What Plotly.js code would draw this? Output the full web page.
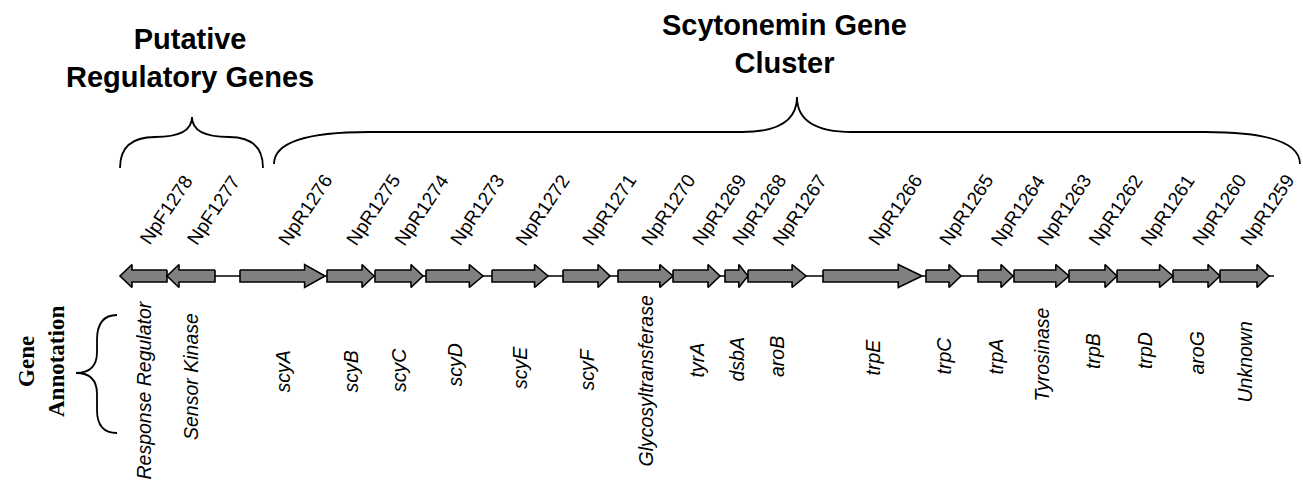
<!DOCTYPE html>
<html>
<head>
<meta charset="utf-8">
<script src="https://cdn.plot.ly/plotly-3.0.1.min.js"></script>
<style>html,body{margin:0;padding:0;background:#fff;}#chart{width:1303px;height:484px;}</style>
</head>
<body>
<div id="chart"></div>
<script>
// ---------------- DATA ----------------
const geneIds = ["NpF1278","NpF1277","NpR1276","NpR1275","NpR1274","NpR1273","NpR1272","NpR1271","NpR1270","NpR1269","NpR1268","NpR1267","NpR1266","NpR1265","NpR1264","NpR1263","NpR1262","NpR1261","NpR1260","NpR1259"];
const geneStart = [120,167,240,327,375,426,492,563,618,673,725,748,823,926,978,1014,1069,1117,1173,1220];
const geneEnd   = [167,215,325,374,423,483,548,610,673,720,748,806,922,961,1013,1069,1117,1173,1220,1269];
const geneStrand = [-1,-1,1,1,1,1,1,1,1,1,1,1,1,1,1,1,1,1,1,1];
const geneAnnotation = ["Response Regulator","Sensor Kinase","scyA","scyB","scyC","scyD","scyE","scyF","Glycosyltransferase","tyrA","dsbA","aroB","trpE","trpC","trpA","Tyrosinase","trpB","trpD","aroG","Unknown"];
const locusExtent = [120,1274];
const groupTitles = ["Putative<br>Regulatory Genes","Scytonemin Gene<br>Cluster"];
const sideTitle = "Gene<br>Annotation";

// ---------------- LAYOUT / STYLE ----------------
const W = 1303, H = 484;
const trackY = 276, bodyHalf = 6, headHalf = 11.5;
const annotLabelY = [390,377,372,372,370,365,368,370,381,360,360,357,357,356,357,355,351,351,353,362];
const sans = "Liberation Sans, Arial, Helvetica, sans-serif";
const serif = "Liberation Serif, Times New Roman, serif";

const traces = [];
traces.push({x: locusExtent, y: [trackY, trackY], mode: "lines", line: {color: "#000", width: 1.5}, hoverinfo: "skip"});

geneIds.forEach((id, i) => {
  const s = geneStart[i], e = geneEnd[i], len = e - s;
  const h = Math.min(len * 0.4, Math.max(12, 0.24 * len));
  let xs, ys;
  if (geneStrand[i] > 0) {
    xs = [s, e - h, e - h, e, e - h, e - h, s, s];
  } else {
    xs = [e, s + h, s + h, s, s + h, s + h, e, e];
  }
  ys = [trackY - bodyHalf, trackY - bodyHalf, trackY - headHalf, trackY, trackY + headHalf, trackY + bodyHalf, trackY + bodyHalf, trackY - bodyHalf];
  traces.push({x: xs, y: ys, mode: "lines", fill: "toself", fillcolor: "#808080",
    line: {color: "#000", width: 1.6}, name: id, hoverinfo: "name"});
});

const annotations = [];
geneIds.forEach((id, i) => {
  const c = (geneStart[i] + geneEnd[i]) / 2;
  annotations.push({x: c + 22, y: 210, xref: "x", yref: "y", text: id, showarrow: false,
    textangle: -56, font: {family: sans, size: 19, color: "#000"}, xanchor: "center", yanchor: "middle"});
  annotations.push({x: c, y: annotLabelY[i], xref: "x", yref: "y", text: "<i>" + geneAnnotation[i] + "</i>", showarrow: false,
    textangle: -90, font: {family: sans, size: 19.5, color: "#000"}, xanchor: "center", yanchor: "middle"});
});
annotations.push({x: 190, y: 58, xref: "x", yref: "y", text: "<b>" + groupTitles[0] + "</b>", showarrow: false,
  font: {family: sans, size: 29, color: "#000"}, xanchor: "center", yanchor: "middle"});
annotations.push({x: 784, y: 44, xref: "x", yref: "y", text: "<b>" + groupTitles[1] + "</b>", showarrow: false,
  font: {family: sans, size: 29, color: "#000"}, xanchor: "center", yanchor: "middle"});
annotations.push({x: 41, y: 362, xref: "x", yref: "y", text: "<b>" + sideTitle + "</b>", showarrow: false,
  textangle: -90, font: {family: serif, size: 23, color: "#000"}, xanchor: "center", yanchor: "middle"});

function hBrace(x0, x1, xm, yb, yh, yt, r) {
  return `M${x0},${yb} Q${x0},${yh} ${x0 + r},${yh} L${xm - 55},${yh} Q${xm},${yh} ${xm},${yt} ` +
         `Q${xm},${yh} ${xm + 55},${yh} L${x1 - r},${yh} Q${x1},${yh} ${x1},${yb}`;
}
const braceLine = {color: "#000", width: 1.8};
const shapes = [
  {type: "path", xref: "x", yref: "y", line: braceLine,
   path: "M120,168 Q120,137 155,137 Q192,137 192,117 Q192,137 229,137 Q263,137 263,168"},
  {type: "path", xref: "x", yref: "y", line: braceLine, path: hBrace(274, 1300, 797, 164, 132, 97, 95)},
  {type: "path", xref: "x", yref: "y", line: braceLine,
   path: "M117,315 Q97,315 97,340 L97,352 Q97,373 76,373 Q97,373 97,394 L97,410 Q97,433 117,433"}
];

const layout = {
  width: W, height: H, margin: {l: 0, r: 0, t: 0, b: 0},
  paper_bgcolor: "#fff", plot_bgcolor: "#fff", showlegend: false,
  xaxis: {range: [0, W], visible: false, fixedrange: true},
  yaxis: {range: [H, 0], visible: false, fixedrange: true},
  annotations: annotations, shapes: shapes
};
Plotly.newPlot("chart", traces, layout, {displayModeBar: false, staticPlot: true});
</script>
</body>
</html>
